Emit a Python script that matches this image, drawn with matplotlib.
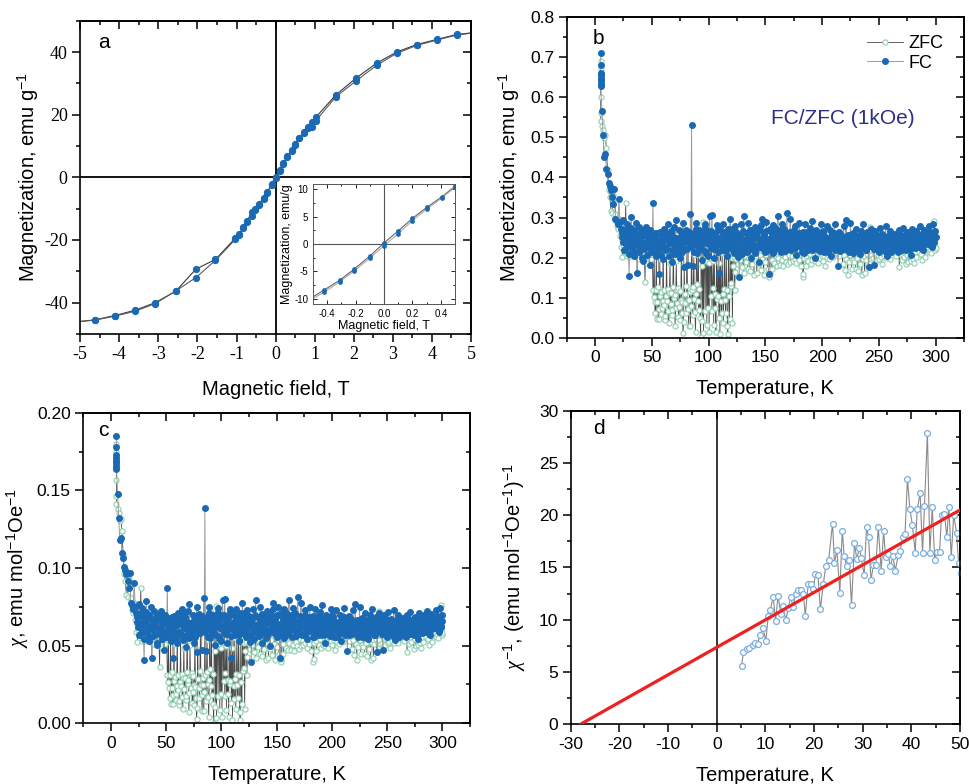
import numpy as np
import matplotlib
matplotlib.use("Agg")
import matplotlib.pyplot as plt
from matplotlib.ticker import MultipleLocator, FormatStrFormatter

# ====== GLOBAL STYLE ======
plt.rcParams['font.family'] = ['Liberation Sans', 'DejaVu Sans']
plt.rcParams['mathtext.fontset'] = 'custom'
plt.rcParams['mathtext.rm'] = 'Liberation Sans'
plt.rcParams['mathtext.it'] = 'Liberation Serif:italic'
plt.rcParams['axes.unicode_minus'] = False
plt.rcParams['axes.linewidth'] = 1.2

# ====== PANEL A : M(H) loop at 5 K ======
H_down = [5.0, 4.63, 4.12, 3.61, 3.10, 2.59, 2.06, 1.54, 1.03, 0.92, 0.83, 0.73, 0.61,
          0.50, 0.41, 0.30, 0.20, 0.10, 0.0, -0.10, -0.21, -0.31, -0.42, -0.52, -0.61,
          -0.73, -0.83, -0.93, -1.03, -1.54, -2.04, -2.56, -3.08, -3.59, -4.11, -4.63, -5.0]
M_down = [46.1, 45.6, 44.0, 42.4, 40.0, 36.5, 31.7, 26.3, 19.2, 17.6, 16.1, 14.4, 12.7,
          10.6, 8.7, 6.7, 4.7, 2.4, 0.2, -2.2, -4.6, -6.6, -8.4, -10.0, -11.1,
          -14.0, -16.2, -18.0, -19.4, -26.2, -29.3, -36.4, -40.0, -42.4, -44.1, -45.5, -46.0]
H_up = [-5.0, -4.63, -4.11, -3.59, -3.08, -2.56, -2.04, -1.54, -1.03, -0.93, -0.83, -0.73,
        -0.61, -0.52, -0.42, -0.31, -0.21, -0.10, 0.0, 0.10, 0.20, 0.30, 0.41, 0.50, 0.61,
        0.73, 0.83, 0.92, 1.03, 1.54, 2.06, 2.59, 3.10, 3.61, 4.12, 4.63, 5.0]
M_up = [-46.0, -45.6, -44.3, -42.7, -40.3, -36.3, -32.0, -26.5, -19.8, -18.3, -16.0, -14.3,
        -12.4, -10.3, -8.8, -6.9, -4.9, -2.6, -0.3, 1.9, 4.3, 6.4, 8.5, 10.4, 12.5,
        14.2, 15.9, 16.0, 18.1, 25.7, 30.8, 35.8, 39.6, 42.1, 43.8, 45.4, 46.0]

# ====== PANEL B/C : ZFC / FC sweep (1 kOe) ======
# repeated readings at the 5 K start, 1 K steps up to 22 K, then 0.5 K steps to 300 K
temps = np.r_[[5.0] * 7, np.arange(5.0, 23.0, 1.0), np.arange(23.0, 300.5, 0.5)]

# magnetization in 1e-3 emu/g (band rows = 10 K each)
fc_milli = [
    710, 682, 662, 655, 648, 641, 634, 628,
    566, 507, 452, 458, 421, 408, 386, 378, 368, 352, 334, 372, 296, 291, 283, 345, 288,
    272, 251, 262, 238, 294, 219, 248, 266, 271, 243, 226, 284, 262, 208, 155, 231, 247, 275, 302, 224,
    229, 257, 268, 203, 214, 241, 258, 287, 161, 232, 242, 215, 276, 249, 221, 263, 254, 198, 192, 236,
    268, 221, 233, 259, 276, 240, 207, 251, 248, 226, 182, 268, 262, 213, 228, 247, 335, 236, 214, 261,
    256, 231, 203, 244, 262, 218, 160, 236, 241, 265, 226, 207, 255, 242, 197, 271, 268, 226, 219, 253,
    247, 221, 283, 258, 205, 242, 236, 267, 262, 219, 188, 245, 251, 277, 231, 210, 294, 248, 214, 239,
    245, 226, 268, 238, 199, 254, 232, 213, 259, 286, 177, 240, 243, 222, 270, 257, 222, 239, 181, 264,
    254, 228, 309, 241, 532, 226, 178, 249, 262, 214, 239, 271, 286, 233, 211, 258, 250, 223, 268, 245,
    226, 262, 194, 237, 258, 219, 241, 273, 285, 248, 213, 236, 266, 203, 236, 259, 305, 241, 224, 267,
    307, 236, 247, 221, 199, 262, 259, 238, 232, 281, 275, 215, 162, 248, 240, 269, 266, 229, 218, 252,
    283, 241, 229, 263, 258, 217, 204, 246, 271, 229, 243, 258, 296, 237, 226, 272, 262, 220, 212, 249,
    279, 232, 238, 264, 254, 218, 201, 241, 152, 257, 246, 233, 283, 209, 225, 266, 304, 243, 240, 226,
    262, 239, 215, 254, 287, 231, 247, 270, 198, 244, 268, 222, 233, 259, 256, 211, 276, 248, 221, 263,
    252, 229, 190, 247, 269, 236, 245, 281, 297, 223, 228, 257, 262, 240, 214, 266, 288, 231, 246, 218,
    160, 243, 271, 226, 236, 262, 255, 211, 281, 248, 219, 273, 266, 235, 241, 224, 303, 256, 230, 268,
    259, 238, 213, 255, 284, 229, 248, 271, 266, 216, 224, 251, 311, 239, 253, 227, 237, 264, 297, 242,
    218, 255, 262, 236, 243, 268, 279, 224, 207, 247, 256, 231, 233, 262, 287, 240, 227, 258, 249, 213,
    265, 237, 212, 251, 283, 228, 240, 264, 256, 222, 219, 246, 275, 233, 238, 261, 292, 218, 226, 253,
    251, 229, 199, 242, 268, 221, 234, 257, 258, 236, 216, 248, 283, 225, 241, 266, 263, 214, 228, 250,
    251, 232, 279, 244, 213, 238, 247, 221, 268, 253, 204, 241, 259, 228, 236, 262, 284, 219, 225, 247,
    248, 226, 178, 239, 264, 217, 232, 255, 257, 231, 221, 249, 279, 236, 243, 222, 294, 251, 228, 240,
    256, 231, 214, 243, 286, 226, 237, 258, 261, 212, 219, 246, 248, 233, 272, 225, 231, 253, 254, 218,
    209, 241, 267, 229, 240, 256, 283, 234, 226, 249, 252, 218, 218, 244, 263, 227, 177, 238, 245, 259,
    271, 236, 229, 248, 256, 221, 182, 243, 266, 230, 238, 257, 252, 219, 214, 246, 275, 229, 232, 254,
    258, 227, 221, 245, 246, 232, 279, 214, 205, 241, 253, 228, 236, 259, 266, 213, 217, 244, 249, 228,
    229, 247, 260, 222, 238, 254, 252, 216, 214, 239, 268, 231, 233, 256, 249, 220, 274, 243, 226, 251,
    257, 233, 218, 245, 263, 227, 239, 255, 251, 221, 207, 246, 272, 236, 241, 262, 258, 224, 230, 251,
    266, 238, 226, 252, 251, 231, 278, 246, 238, 223, 259, 241, 218, 257, 269, 233, 244, 262, 255, 237,
    234, 256, 279, 241, 247, 265, 262, 229, 226, 253, 284, 238, 240, 266, 252,
]
zfc_milli = [
    690, 670, 655, 645, 630, 600, 560, 540,
    528, 518, 498, 505, 474, 418, 368, 352, 316, 312, 356, 372, 308, 280, 271, 296, 254,
    226, 244, 201, 231, 262, 218, 215, 252, 335, 226, 238, 204, 208, 241, 248, 219, 203, 236, 271, 213,
    219, 237, 242, 208, 205, 226, 263, 231, 228, 199, 196, 224, 254, 217, 212, 241, 237, 206, 202, 228,
    248, 215, 138, 224, 231, 192, 187, 236, 255, 218, 214, 197, 196, 230, 241, 208, 118, 102, 229, 88,
    62, 118, 210, 47, 88, 126, 47, 71, 196, 104, 114, 58, 73, 92, 231, 81, 119, 45, 55, 103,
    203, 92, 121, 66, 36, 112, 187, 84, 111, 57, 68, 127, 224, 98, 106, 29, 74, 192, 118, 86,
    123, 51, 77, 116, 45, 94, 214, 89, 62, 11, 38, 182, 110, 87, 62, 128, 228, 94, 71, 30,
    94, 113, 30, 78, 241, 118, 56, 126, 206, 97, 64, 15, 108, 279, 133, 91, 210, 69, 122, 48,
    2, 254, 178, 41, 289, 12, 196, 222, 67, 245, 191, 32, 218, 73, 186, 15, 237, 198, 104, 226,
    67, 124, 191, 32, 218, 73, 108, 15, 237, 96, 104, 226, 49, 187, 8, 238, 92, 61, 211, 110,
    36, 121, 214, 95, 62, 227, 118, 29, 8, 216, 103, 47, 240, 128, 136, 198, 36, 179, 233, 201,
    118, 164, 214, 197, 233, 184, 219, 245, 202, 228, 193, 236, 241, 176, 213, 229, 162, 248, 205, 236,
    188, 219, 231, 172, 216, 243, 198, 167, 225, 209, 238, 184, 214, 249, 157, 221, 197, 236, 205, 162,
    229, 214, 183, 241, 206, 225, 168, 218, 246, 196, 232, 157, 214, 236, 189, 224, 206, 241, 172, 219,
    230, 152, 158, 216, 238, 195, 172, 227, 209, 241, 186, 222, 205, 234, 180, 219, 245, 198, 213, 228,
    182, 236, 209, 224, 193, 241, 178, 218, 232, 201, 227, 190, 219, 246, 184, 225, 207, 236, 190, 221,
    243, 205, 192, 228, 215, 239, 197, 224, 186, 213, 248, 201, 222, 195, 236, 209, 227, 178, 217, 244,
    152, 158, 199, 216, 231, 203, 178, 221, 214, 236, 192, 217, 209, 229, 185, 224, 240, 193, 218, 224,
    210, 191, 232, 219, 204, 240, 187, 226, 213, 235, 198, 221, 246, 203, 229, 192, 217, 238, 205, 180,
    224, 213, 247, 200, 231, 215, 238, 196, 227, 244, 209, 233, 218, 246, 201, 226, 238, 214, 255, 220,
    237, 211, 248, 226, 203, 262, 230, 219, 251, 236, 183, 241, 206, 225, 168, 218, 246, 196, 232, 157,
    214, 236, 189, 224, 206, 241, 172, 219, 230, 194, 188, 219, 231, 172, 216, 243, 198, 167, 225, 209,
    238, 184, 214, 249, 157, 221, 197, 236, 205, 162, 222, 195, 236, 209, 227, 178, 217, 244, 199, 276,
    206, 196, 228, 223, 199, 244, 183, 231, 208, 239, 194, 226, 241, 207, 224, 197, 212, 243, 201, 185,
    221, 217, 243, 204, 227, 219, 234, 199, 223, 248, 205, 237, 214, 242, 197, 230, 234, 218, 251, 224,
    237, 211, 248, 226, 203, 262, 230, 219, 251, 236, 176, 221, 208, 233, 195, 228, 214, 243, 201, 232,
    219, 246, 184, 225, 207, 236, 190, 221, 243, 205, 192, 228, 215, 239, 197, 224, 186, 213, 248, 201,
    224, 268, 232, 247, 214, 271, 223, 236, 209, 224, 193, 241, 228, 218, 232, 201, 227, 240, 219, 246,
    226, 238, 214, 255, 220, 237, 211, 248, 226, 233, 262, 230, 291, 219, 223,
]
M_fc = np.array(fc_milli) / 1000.0
M_zfc = np.array(zfc_milli) / 1000.0

# chi = M * molar mass / H
molar_mass = 261.0   # g/mol
field_oe = 1000.0    # Oe
chi_fc = M_fc * molar_mass / field_oe
chi_zfc = M_zfc * molar_mass / field_oe

# ====== PANEL D : inverse susceptibility, low T ======
T_inv = [5.1, 5.5, 6.2, 6.7, 7.4, 7.9, 8.4, 8.9, 9.5, 10.1, 10.6, 11.0, 11.6, 12.1, 12.6,
         13.2, 13.6, 14.2, 14.7, 15.2, 15.7, 16.2, 16.8, 17.3, 17.8, 18.2, 18.8, 19.3,
         19.8, 20.3, 20.8, 21.3, 21.9, 22.4, 23.0, 23.8, 24.2, 24.7, 25.3, 25.8, 26.2,
         26.7, 27.2, 27.7, 28.3, 28.8, 29.3, 29.7, 30.3, 30.8, 31.2, 31.7, 32.2, 32.7,
         33.2, 33.8, 34.3, 34.7, 35.2, 35.7, 36.2, 36.7, 37.3, 37.7, 38.2, 38.7, 39.2,
         39.7, 40.2, 40.8, 41.2, 41.8, 42.3, 42.7, 43.3, 43.8, 44.3, 44.8, 45.3, 45.8,
         46.2, 46.8, 47.3, 47.7, 48.2, 48.7, 49.3, 49.7, 50.3]
chi_inv = [5.6, 6.9, 7.2, 7.3, 7.6, 7.8, 7.7, 8.5, 9.2, 8.0, 10.4, 10.9, 12.2, 9.9, 12.3,
           10.5, 11.3, 10.0, 11.1, 12.2, 11.2, 12.5, 12.8, 12.8, 12.5, 10.4, 13.4, 13.4,
           12.9, 14.4, 14.3, 11.0, 13.4, 15.1, 15.7, 19.2, 15.4, 16.7, 12.6, 18.5, 16.1,
           15.1, 15.7, 11.4, 17.3, 15.8, 16.9, 15.9, 14.3, 18.9, 17.9, 13.8, 15.2, 15.2,
           18.9, 14.7, 18.5, 16.0, 16.3, 15.1, 16.1, 14.7, 16.2, 16.6, 17.9, 18.2, 23.5,
           20.6, 19.1, 16.4, 20.6, 22.1, 16.4, 20.9, 27.9, 16.4, 20.8, 15.7, 16.5, 16.5,
           20.0, 20.1, 17.9, 20.8, 16.0, 20.0, 18.3, 15.4, 14.5]
# Curie-Weiss fit line end points
fit_T = [-28.0, 50.0]
fit_inv = [0.0, 20.5]

blue = '#1a69b5'
green_edge = '#8fcfb0'


def mirror_ticks(ax, xmaj, xmin, ymaj, ymin):
    # outward ticks on bottom/left, inward ticks on top/right
    ax.xaxis.set_major_locator(MultipleLocator(xmaj))
    ax.xaxis.set_minor_locator(MultipleLocator(xmin))
    ax.yaxis.set_major_locator(MultipleLocator(ymaj))
    ax.yaxis.set_minor_locator(MultipleLocator(ymin))
    ax.tick_params(which='both', direction='out', width=1.1)
    ax.tick_params(which='major', length=5.5)
    ax.tick_params(which='minor', length=3)
    top = ax.secondary_xaxis('top')
    top.xaxis.set_major_locator(MultipleLocator(xmaj))
    top.xaxis.set_minor_locator(MultipleLocator(xmin))
    top.tick_params(which='both', direction='in', width=1.1, labeltop=False)
    top.tick_params(which='major', length=5.5)
    top.tick_params(which='minor', length=3)
    right = ax.secondary_yaxis('right')
    right.yaxis.set_major_locator(MultipleLocator(ymaj))
    right.yaxis.set_minor_locator(MultipleLocator(ymin))
    right.tick_params(which='both', direction='in', width=1.1, labelright=False)
    right.tick_params(which='major', length=5.5)
    right.tick_params(which='minor', length=3)


fig = plt.figure(figsize=(9.7, 7.84), dpi=100)

# ---------- a ----------
ax_a = fig.add_axes([0.0827, 0.574, 0.4029, 0.3996])
ax_a.axhline(0, color='k', lw=1.3, zorder=1)
ax_a.axvline(0, color='k', lw=1.3, zorder=1)
ax_a.plot(H_down, M_down, '-', color='#3a3a3a', lw=0.8, zorder=2)
ax_a.plot(H_up, M_up, '-', color='#5a5a5a', lw=0.8, zorder=2)
ax_a.plot(H_down[1:-1], M_down[1:-1], 'o', color=blue, ms=4.2, zorder=3)
ax_a.plot(H_up[1:-1], M_up[1:-1], 'o', color=blue, ms=4.2, zorder=3)
ax_a.set_xlim(-5, 5)
ax_a.set_ylim(-50, 50)
mirror_ticks(ax_a, 1, 0.5, 20, 10)
ax_a.tick_params(labelsize=13, labelfontfamily='Liberation Serif')
ax_a.set_xlabel('Magnetic field, T', fontsize=14.5, labelpad=12)
ax_a.set_ylabel('Magnetization, emu g$^{-1}$', fontsize=14.5, labelpad=2)
ax_a.text(0.046, 0.93, 'a', transform=ax_a.transAxes, fontsize=15, va='center')

# inset
ins = fig.add_axes([0.3227, 0.6122, 0.1464, 0.1531])
ins.axhline(0, color='#555555', lw=0.8)
ins.axvline(0, color='#555555', lw=0.8)
ins.plot(H_down, M_down, '-', color='#666666', lw=0.8)
ins.plot(H_up, M_up, '-', color='#aaaaaa', lw=0.8)
ins.plot(H_down, M_down, 'o', color=blue, ms=2.4)
ins.plot(H_up, M_up, 'o', color=blue, ms=2.4)
ins.set_xlim(-0.5, 0.5)
ins.set_ylim(-11, 11)
ins.xaxis.set_major_locator(MultipleLocator(0.2))
ins.xaxis.set_minor_locator(MultipleLocator(0.1))
ins.yaxis.set_major_locator(MultipleLocator(5))
ins.yaxis.set_minor_locator(MultipleLocator(2.5))
ins.xaxis.set_major_formatter(FormatStrFormatter('%.1f'))
ins.tick_params(which='both', direction='in', top=True, right=True, width=0.6, labelsize=7)
ins.tick_params(which='major', length=3)
ins.tick_params(which='minor', length=1.5)
for s in ins.spines.values():
    s.set_linewidth(0.7)
    s.set_color('#555555')
ins.set_xlabel('Magnetic field, T', fontsize=9, labelpad=1)
ins.set_ylabel('Magnetization, emu/g', fontsize=9, labelpad=1)

# ---------- b ----------
ax_b = fig.add_axes([0.5842, 0.5693, 0.4096, 0.4087])
zfc_b, = ax_b.plot(temps, M_zfc, '-o', color='#4a4a4a', lw=0.6, ms=3.7, mfc='white',
                   mec=green_edge, mew=0.8, label='ZFC', zorder=2)
fc_b, = ax_b.plot(temps, M_fc, '-o', color='#9a9a9a', lw=0.7, ms=4.0, mfc=blue,
                  mec=blue, label='FC', zorder=3)
ax_b.set_xlim(-25, 325)
ax_b.set_ylim(0, 0.8)
mirror_ticks(ax_b, 50, 25, 0.1, 0.05)
ax_b.yaxis.set_major_formatter(FormatStrFormatter('%.1f'))
ax_b.tick_params(labelsize=12.5)
ax_b.set_xlabel('Temperature, K', fontsize=14.5, labelpad=10)
ax_b.set_ylabel('Magnetization, emu g$^{-1}$', fontsize=14.5, labelpad=6)
ax_b.text(0.066, 0.935, 'b', transform=ax_b.transAxes, fontsize=15, va='center')
ax_b.text(0.695, 0.685, 'FC/ZFC (1kOe)', transform=ax_b.transAxes, fontsize=15,
          color='#2b2f87', ha='center', va='center')
ax_b.legend(handles=[zfc_b, fc_b], loc='upper left', bbox_to_anchor=(0.755, 0.945),
            frameon=False, fontsize=13, handlelength=2.0, handletextpad=0.3,
            labelspacing=0.15, borderpad=0, borderaxespad=0)

# ---------- c ----------
ax_c = fig.add_axes([0.0859, 0.0774, 0.3987, 0.3962])
ax_c.plot(temps, chi_zfc, '-o', color='#4a4a4a', lw=0.6, ms=3.7, mfc='white',
          mec=green_edge, mew=0.8, zorder=2)
ax_c.plot(temps, chi_fc, '-o', color='#9a9a9a', lw=0.7, ms=4.0, mfc=blue,
          mec=blue, zorder=3)
ax_c.set_xlim(-25, 325)
ax_c.set_ylim(0, 0.2)
mirror_ticks(ax_c, 50, 25, 0.05, 0.025)
ax_c.yaxis.set_major_formatter(FormatStrFormatter('%.2f'))
ax_c.tick_params(labelsize=12.5)
ax_c.set_xlabel('Temperature, K', fontsize=14.5, labelpad=10)
ax_c.set_ylabel(r'$\chi$, emu mol$^{-1}$Oe$^{-1}$', fontsize=14.5, labelpad=4)
ax_c.text(0.038, 0.944, 'c', transform=ax_c.transAxes, fontsize=15, va='center')

# ---------- d ----------
ax_d = fig.add_axes([0.5884, 0.0762, 0.4013, 0.4000])
ax_d.axvline(0, color='k', lw=1.1, zorder=1)
ax_d.plot(T_inv, chi_inv, '-o', color='#8a8a8a', lw=0.8, ms=4.2, mfc='white',
          mec='#7aaee0', mew=0.9, zorder=2)
ax_d.plot(fit_T, fit_inv, '-', color='#ee2020', lw=2.3, zorder=3)
ax_d.set_xlim(-30, 50)
ax_d.set_ylim(0, 30)
mirror_ticks(ax_d, 10, 5, 5, 2.5)
ax_d.tick_params(labelsize=12.5)
ax_d.set_xlabel('Temperature, K', fontsize=14.5, labelpad=10)
ax_d.set_ylabel(r'$\chi^{-1}$, (emu mol$^{-1}$Oe$^{-1}$)$^{-1}$', fontsize=14.5, labelpad=8)
ax_d.text(0.057, 0.942, 'd', transform=ax_d.transAxes, fontsize=15, va='center')

fig.savefig('out.png', dpi=100)
